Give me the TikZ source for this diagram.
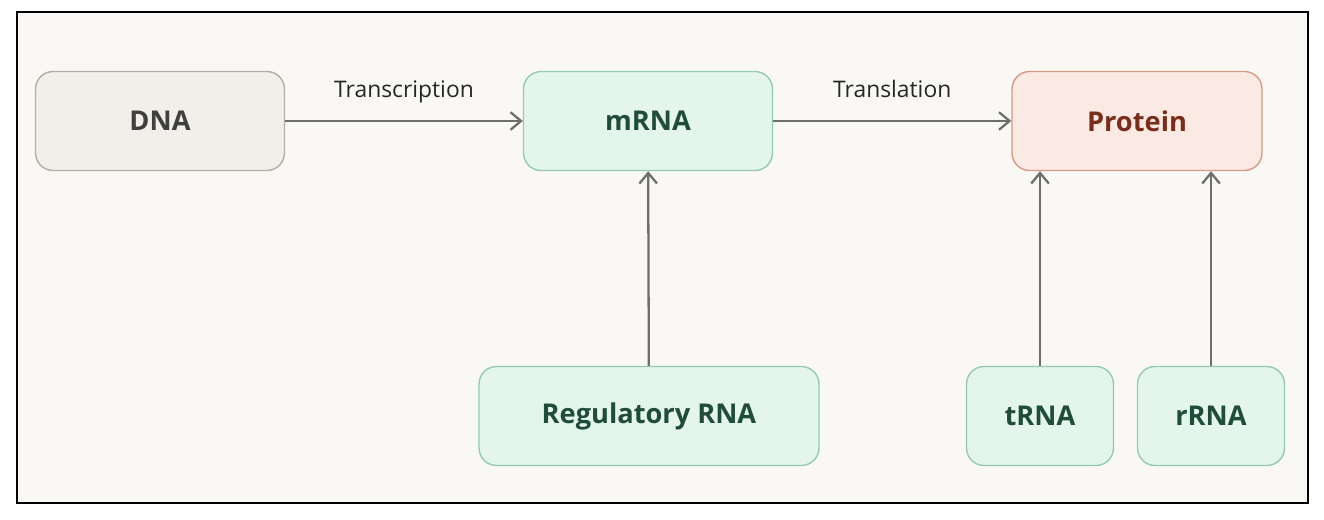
\documentclass[tikz,border=0pt]{standalone}
\usepackage{fontspec}
\setmainfont{Open Sans}
\usetikzlibrary{positioning,arrows.meta}
\definecolor{bgpaper}{HTML}{F9F8F5}
\definecolor{dnafill}{HTML}{F2EEE9}
\definecolor{dnaline}{HTML}{B3ADA6}
\definecolor{rnafill}{HTML}{E3F5EC}
\definecolor{rnaline}{HTML}{95CCB0}
\definecolor{rnatext}{HTML}{1F4D3A}
\definecolor{protfill}{HTML}{FBEAE4}
\definecolor{protline}{HTML}{D99A85}
\definecolor{prottext}{HTML}{7A2E1A}
\definecolor{arrowgray}{HTML}{6E6E6E}
\tikzset{
  box/.style={rounded corners=10pt, minimum height=1.98cm, font=\bfseries\fontsize{15.5}{18}\selectfont, line width=0.8pt},
  dnabox/.style={box, fill=dnafill, draw=dnaline, text=black!75, minimum width=4.98cm},
  rnabox/.style={box, fill=rnafill, draw=rnaline, text=rnatext},
  protbox/.style={box, fill=protfill, draw=protline, text=prottext, minimum width=5cm},
  flow/.style={-{Straight Barb[length=6pt,width=10pt]}, draw=arrowgray, line width=1.3pt},
  steplabel/.style={font=\fontsize{13}{15}\selectfont, text=black!85, anchor=base}
}
\begin{document}
\begin{tikzpicture}[x=0.02cm, y=-0.02cm]
\useasboundingbox (0,0) rectangle (1324,520);
\fill[white] (0,0) rectangle (1324,520);
\filldraw[fill=bgpaper, draw=black, line width=0.8pt] (17,12) rectangle (1308,503);

% top row
\node[dnabox] (dna) at (160,121) {DNA};
\node[rnabox, minimum width=4.98cm] (mrna) at (648,121) {mRNA};
\node[protbox] (protein) at (1137,121) {Protein};

% bottom row
\node[rnabox, minimum width=6.8cm] (regrna) at (649,416) {Regulatory RNA};
\node[rnabox, minimum width=2.94cm] (trna) at (1040,416) {tRNA};
\node[rnabox, minimum width=2.94cm] (rrna) at (1211,416) {rRNA};

\draw[flow] (dna) -- node[steplabel, yshift=0.48cm] {Transcription} (mrna);
\draw[flow] (mrna) -- node[steplabel, yshift=0.48cm] {Translation} (protein);
\draw[flow] (regrna) -- (mrna);
\draw[flow] (trna.north) -- (trna.north |- protein.south);
\draw[flow] (rrna.north) -- (rrna.north |- protein.south);
\end{tikzpicture}
\end{document}
